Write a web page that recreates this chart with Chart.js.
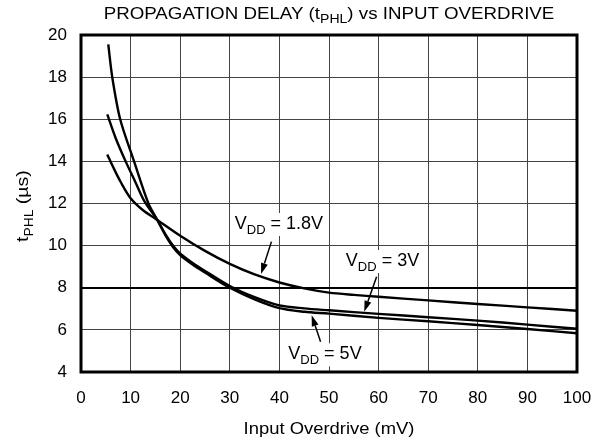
<!DOCTYPE html>
<html>
<head>
<meta charset="utf-8">
<script src="https://cdn.jsdelivr.net/npm/chart.js@4"></script>
<style>
  body { margin: 0; background: #fff; }
  #wrap { width: 609px; height: 447px; position: relative; }
</style>
</head>
<body>
<div id="wrap"><canvas id="delayChart"></canvas></div>
<script>
// values
const xTicks = [0, 10, 20, 30, 40, 50, 60, 70, 80, 90, 100];
const yTicks = [4, 6, 8, 10, 12, 14, 16, 18, 20];

const vdd18X = [5.3, 6.5, 8, 10, 12.5, 15, 20, 25, 30, 35, 40, 45, 50, 55, 60, 70, 80, 90, 100];
const vdd18Y = [14.33, 13.72, 13.02, 12.25, 11.68, 11.28, 10.47, 9.75, 9.13, 8.63, 8.25, 7.97, 7.77, 7.66, 7.57, 7.40, 7.23, 7.07, 6.91];

const vdd3X = [5.3, 7, 9, 11, 12.8, 15.3, 17, 18.5, 20, 22.5, 25, 30, 35, 40, 45, 50, 60, 70, 80, 90, 100];
const vdd3Y = [16.23, 15.1, 14, 13, 12.1, 11.25, 10.55, 10.02, 9.62, 9.18, 8.8, 8.08, 7.55, 7.16, 7.02, 6.93, 6.76, 6.6, 6.44, 6.25, 6.05];

const vdd5X = [5.5, 6.3, 7.9, 10.7, 13.6, 15.3, 17, 18.5, 20, 22.5, 25, 30, 35, 40, 45, 50, 60, 70, 80, 90, 100];
const vdd5Y = [19.55, 18, 16, 14, 12, 11.25, 10.5, 9.95, 9.55, 9.1, 8.72, 8.0, 7.45, 7.03, 6.86, 6.77, 6.57, 6.41, 6.23, 6.04, 5.84];

// annotation labels: text anchor and arrow (tail -> tip), in data units
const labels = [
  { sub: "DD", rest: " = 1.8V", at: [31.0, 10.79], tail: [38.4, 10.19], tip: [36.3, 8.65] },
  { sub: "DD", rest: " = 3V",   at: [53.4, 9.03],  tail: [59.6, 8.52],  tip: [57.1, 6.86] },
  { sub: "DD", rest: " = 5V",   at: [41.8, 4.60],  tail: [48.3, 5.44],  tip: [46.5, 6.70] }
];

const FONT = "'Liberation Sans', Arial, sans-serif";

function toPts(xs, ys) {
  return xs.map((x, i) => ({ x: x, y: ys[i] }));
}

// draws text pieces, some as subscripts; returns total width (unstretched)
function drawPieces(ctx, pieces, x, y, size, measureOnly) {
  let cx = x;
  pieces.forEach(p => {
    let fs = p.sub ? Math.round(size * 0.72) : size;
    ctx.font = fs + "px " + FONT;
    if (!measureOnly) ctx.fillText(p.t, cx, p.sub ? y + size * 0.28 : y);
    cx += ctx.measureText(p.t).width;
  });
  return cx - x;
}

// same but centred on cx and widened a little, like the reference lettering
function drawWide(ctx, pieces, cx, y, size, sx) {
  let w = drawPieces(ctx, pieces, 0, 0, size, true);
  ctx.save();
  ctx.translate(cx, y);
  ctx.scale(sx, 1);
  drawPieces(ctx, pieces, -w / 2, 0, size, false);
  ctx.restore();
}

function arrow(ctx, x1, y1, x2, y2) {
  let ang = Math.atan2(y2 - y1, x2 - x1);
  let head = 11, half = 3.5;
  let bx = x2 - head * Math.cos(ang), by = y2 - head * Math.sin(ang);
  ctx.beginPath();
  ctx.moveTo(x1, y1);
  ctx.lineTo(bx, by);
  ctx.lineWidth = 1.5;
  ctx.strokeStyle = "#000";
  ctx.stroke();
  ctx.beginPath();
  ctx.moveTo(x2, y2);
  ctx.lineTo(bx + half * Math.sin(ang), by - half * Math.cos(ang));
  ctx.lineTo(bx - half * Math.sin(ang), by + half * Math.cos(ang));
  ctx.closePath();
  ctx.fillStyle = "#000";
  ctx.fill();
}

const decorations = {
  id: "decorations",
  afterDraw(chart) {
    const ctx = chart.ctx;
    const a = chart.chartArea;
    const xs = chart.scales.x, ys = chart.scales.y;
    ctx.save();

    // frame
    ctx.strokeStyle = "#000";
    ctx.lineWidth = 3;
    ctx.strokeRect(a.left, a.top, a.right - a.left, a.bottom - a.top);

    // curve labels with white boxes
    ctx.textBaseline = "alphabetic";
    ctx.textAlign = "left";
    labels.forEach(l => {
      let px = xs.getPixelForValue(l.at[0]);
      let py = ys.getPixelForValue(l.at[1]);
      let pieces = [{ t: "V" }, { t: l.sub, sub: true }, { t: l.rest }];
      let w = drawPieces(ctx, pieces, px, py, 18, true);
      ctx.fillStyle = "#fff";
      ctx.fillRect(px - 3, py - 16, w + 6, 23);
      ctx.fillStyle = "#000";
      drawPieces(ctx, pieces, px, py, 18, false);
      arrow(ctx, xs.getPixelForValue(l.tail[0]), ys.getPixelForValue(l.tail[1]),
        xs.getPixelForValue(l.tip[0]), ys.getPixelForValue(l.tip[1]));
    });

    let cx = (a.left + a.right) / 2;
    ctx.fillStyle = "#000";

    // title
    drawWide(ctx, [{ t: "PROPAGATION DELAY (t" }, { t: "PHL", sub: true }, { t: ") vs INPUT OVERDRIVE" }],
      cx, 19, 16, 1.17);

    // x axis title
    drawWide(ctx, [{ t: "Input Overdrive (mV)" }], cx, 434, 16, 1.15);

    // y axis title, rotated
    ctx.save();
    ctx.translate(28, 206);
    ctx.rotate(-Math.PI / 2);
    drawWide(ctx, [{ t: "t" }, { t: "PHL", sub: true }, { t: " (\u00b5s)" }], 0, 0, 17, 1.15);
    ctx.restore();

    ctx.restore();
  }
};

function series(xs, ys) {
  return {
    data: toPts(xs, ys),
    showLine: true,
    borderColor: "#000",
    borderWidth: 2.4,
    pointRadius: 0,
    tension: 0.3,
    fill: false
  };
}

const ctx = document.getElementById("delayChart").getContext("2d");

new Chart(ctx, {
  type: "scatter",
  data: {
    datasets: [
      series(vdd18X, vdd18Y),
      series(vdd3X, vdd3Y),
      series(vdd5X, vdd5Y)
    ]
  },
  options: {
    responsive: true,
    maintainAspectRatio: false,
    animation: false,
    events: [],
    layout: { padding: { top: 35, right: 32, left: 0, bottom: 0 } },
    plugins: {
      legend: { display: false },
      tooltip: { enabled: false },
      title: { display: false }
    },
    scales: {
      x: {
        type: "linear",
        min: 0,
        max: 100,
        afterBuildTicks: s => { s.ticks = xTicks.map(v => ({ value: v })); },
        afterFit: s => { s.height = 75; },
        grid: { color: "#444", lineWidth: 1, drawTicks: false },
        border: { display: false },
        ticks: { color: "#000", padding: 16, font: { family: FONT, size: 17 } }
      },
      y: {
        type: "linear",
        min: 4,
        max: 20,
        afterBuildTicks: s => { s.ticks = yTicks.map(v => ({ value: v })); },
        afterFit: s => { s.width = 81; },
        grid: {
          color: c => c.tick && c.tick.value === 8 ? "#000" : "#444",
          lineWidth: c => c.tick && c.tick.value === 8 ? 2 : 1,
          drawTicks: false
        },
        border: { display: false },
        ticks: { color: "#000", padding: 14, font: { family: FONT, size: 17 } }
      }
    }
  },
  plugins: [decorations]
});
</script>
</body>
</html>
